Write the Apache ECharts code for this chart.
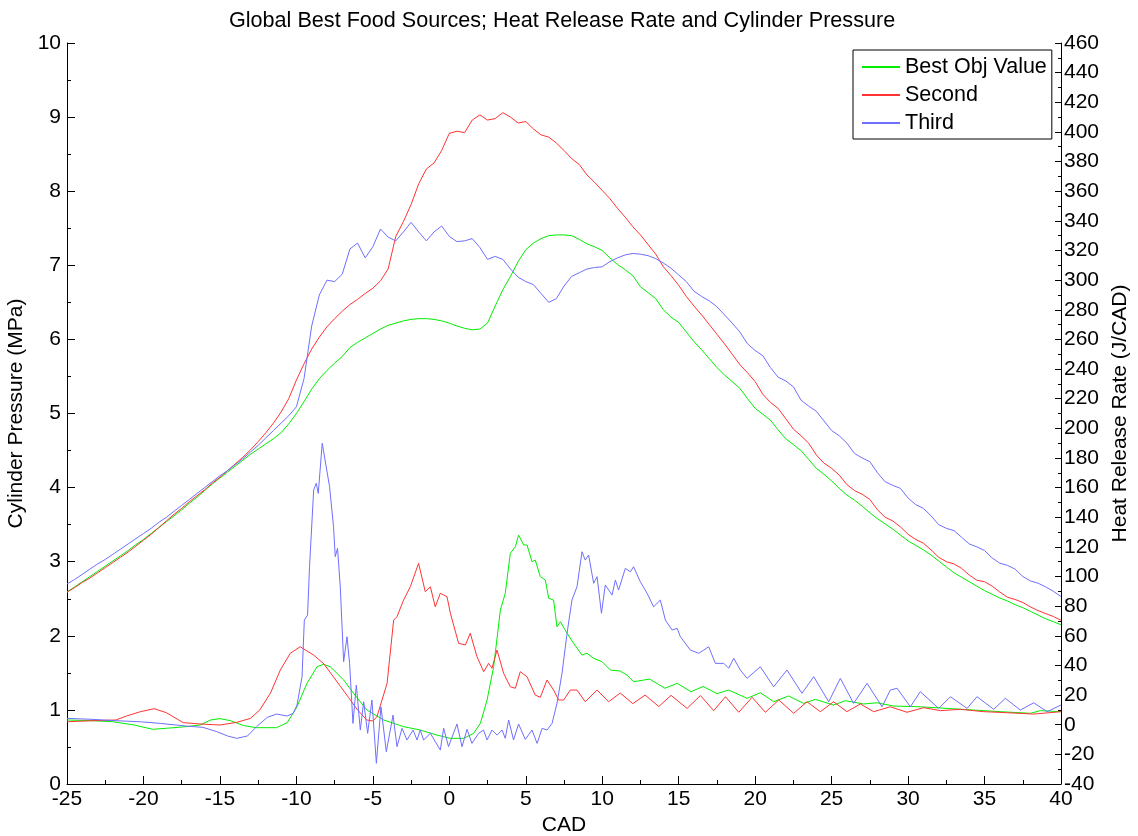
<!DOCTYPE html>
<html><head><meta charset="utf-8">
<script src="https://cdn.jsdelivr.net/npm/echarts/dist/echarts.min.js"></script>
<style>html,body{margin:0;padding:0;background:#fff}#c{width:1138px;height:836px}</style>
</head><body><div id="c"></div>
<script>
const titleText = 'Global Best Food Sources; Heat Release Rate and Cylinder Pressure';
const seriesNames = ['Best Obj Value', 'Second', 'Third'];

// Cylinder pressure (MPa), shared CAD grid
const cad = [-25,-24.5,-24,-23.5,-23,-22.5,-22,-21.5,-21,-20.5,
  -20,-19.5,-19,-18.5,-18,-17.5,-17,-16.5,-16,-15.5,
  -15,-14.5,-14,-13.5,-13,-12.5,-12,-11.5,-11,-10.5,
  -10,-9.5,-9,-8.5,-8,-7.5,-7,-6.5,-6,-5.5,
  -5,-4.5,-4,-3.5,-3,-2.5,-2,-1.5,-1,-0.5,
  0,0.5,1,1.5,2,2.5,3,3.5,4,4.5,
  5,5.5,6,6.5,7,7.5,8,8.5,9,9.5,
  10,10.5,11,11.5,12,12.5,13,13.5,14,14.5,
  15,15.5,16,16.5,17,17.5,18,18.5,19,19.5,
  20,20.5,21,21.5,22,22.5,23,23.5,24,24.5,
  25,25.5,26,26.5,27,27.5,28,28.5,29,29.5,
  30,30.5,31,31.5,32,32.5,33,33.5,34,34.5,
  35,35.5,36,36.5,37,37.5,38,38.5,39,39.5,
  40];
const pressureBest = [2.59,2.66,2.73,2.80,2.87,2.94,3.01,3.08,3.15,3.23,
  3.30,3.38,3.46,3.54,3.62,3.70,3.79,3.87,3.96,4.05,
  4.13,4.21,4.29,4.37,4.45,4.52,4.59,4.66,4.74,4.86,
  5.00,5.16,5.33,5.47,5.58,5.68,5.77,5.89,5.96,6.02,
  6.08,6.14,6.19,6.22,6.25,6.27,6.28,6.28,6.27,6.25,
  6.22,6.18,6.15,6.13,6.14,6.22,6.45,6.67,6.85,7.05,
  7.21,7.30,7.36,7.40,7.41,7.41,7.40,7.35,7.29,7.25,
  7.20,7.10,7.01,6.94,6.86,6.71,6.63,6.55,6.40,6.30,
  6.23,6.10,5.97,5.86,5.74,5.62,5.52,5.43,5.34,5.20,
  5.07,4.99,4.91,4.78,4.66,4.58,4.50,4.38,4.26,4.18,
  4.09,3.99,3.90,3.83,3.75,3.66,3.58,3.51,3.44,3.36,
  3.28,3.22,3.16,3.09,3.01,2.93,2.85,2.79,2.73,2.67,
  2.61,2.56,2.51,2.47,2.42,2.38,2.33,2.28,2.23,2.19,
  2.15];
const pressureSecond = [2.59,2.65,2.72,2.78,2.85,2.92,2.99,3.06,3.13,3.21,
  3.29,3.37,3.46,3.55,3.64,3.72,3.81,3.89,3.97,4.06,
  4.14,4.23,4.32,4.41,4.51,4.62,4.74,4.87,5.02,5.20,
  5.45,5.67,5.87,6.03,6.17,6.28,6.38,6.47,6.54,6.62,
  6.69,6.79,6.95,7.39,7.59,7.82,8.10,8.30,8.38,8.55,
  8.78,8.81,8.79,8.96,9.03,8.96,8.98,9.06,9.00,8.92,
  8.94,8.84,8.76,8.73,8.65,8.55,8.44,8.36,8.22,8.12,
  8.01,7.90,7.77,7.65,7.52,7.41,7.28,7.15,6.98,6.86,
  6.73,6.58,6.45,6.33,6.20,6.07,5.94,5.80,5.66,5.55,
  5.43,5.26,5.15,5.07,4.93,4.79,4.70,4.60,4.44,4.33,
  4.26,4.17,4.04,3.96,3.91,3.84,3.70,3.60,3.55,3.47,
  3.37,3.30,3.25,3.16,3.06,3.00,2.97,2.91,2.82,2.75,
  2.73,2.67,2.59,2.52,2.49,2.45,2.39,2.34,2.30,2.26,
  2.21];
const pressureThird = [2.70,2.76,2.83,2.90,2.97,3.03,3.10,3.17,3.24,3.31,
  3.38,3.45,3.53,3.60,3.68,3.76,3.84,3.92,4.00,4.08,
  4.16,4.23,4.31,4.39,4.48,4.57,4.67,4.77,4.87,4.97,
  5.09,5.47,6.18,6.60,6.80,6.78,6.88,7.22,7.30,7.10,
  7.25,7.49,7.38,7.33,7.45,7.58,7.45,7.33,7.45,7.53,
  7.39,7.32,7.33,7.36,7.24,7.08,7.12,7.08,6.95,6.84,
  6.78,6.74,6.62,6.50,6.55,6.72,6.85,6.90,6.95,6.97,
  6.98,7.05,7.10,7.14,7.16,7.15,7.13,7.09,7.03,6.96,
  6.87,6.78,6.65,6.58,6.52,6.44,6.33,6.22,6.10,5.94,
  5.85,5.78,5.62,5.49,5.44,5.36,5.18,5.10,5.03,4.90,
  4.77,4.70,4.60,4.46,4.40,4.35,4.20,4.08,4.03,3.99,
  3.86,3.77,3.72,3.62,3.50,3.45,3.42,3.33,3.24,3.20,
  3.15,3.05,2.98,2.95,2.90,2.80,2.74,2.71,2.66,2.60,
  2.53];

// Heat release rate (J/CAD), each with its own CAD points
const hrrBestCad = [-25,-23.3,-22,-20.6,-19.4,-18.5,-17.2,-16.3,-15.6,-15,-14.3,-13.45,-12.6,-11.3,-10.6,-9.96,-9.31,-8.65,-8.22,-7.78,-6.91,-6.26,-5.82,-5.38,-4.29,-2.99,-1.9,-0.8,0.07,0.94,1.59,2.03,2.47,2.9,3.34,3.66,3.99,4.32,4.53,4.86,5.08,5.41,5.62,5.95,6.28,6.5,6.82,7.04,7.26,7.7,8.13,8.68,9,9.44,9.99,10.53,11.18,11.62,12.05,13.1,14.1,14.9,15.8,16.6,17.51,18.27,19.47,20.34,21.21,22.19,23.17,23.94,25.13,25.9,27.09,27.97,29.06,30.8,32.55,34.29,36.04,38,38.65,40];
const hrrBestVal = [3.2,2.7,2.0,-0.2,-3.1,-2.4,-1.3,-0.2,3.2,4.1,2.7,-0.6,-2.0,-2.0,1.4,12.1,27.9,39.1,40.8,39.1,30.2,21.2,15.5,9.9,3.2,-1.3,-3.6,-7,-9.2,-9.2,-5.8,0.9,16.7,39.1,77.4,88.7,115.7,120.1,128,121.3,121.3,110,111.1,99.9,97.6,85.3,84.1,66.1,69.5,61.7,54.9,47,48.2,44.8,42.5,36.9,36.2,33.5,29,30.8,24.6,27.9,22.3,25.8,21,23.4,17.8,21.6,15.5,19.4,14.4,17.1,13.3,16.2,14,14.8,12.6,12.1,11,9.9,8.8,7.7,9.5,8.8];
const hrrSecondCad = [-25,-23.3,-21.8,-21.1,-20.2,-19.3,-18.5,-17.4,-16.3,-15,-13.9,-13,-12.4,-11.7,-11.05,-10.4,-9.75,-8.87,-8.2,-7.1,-6.6,-6,-5.4,-5,-4.73,-4.07,-3.64,-3.42,-2.99,-2.55,-2.01,-1.57,-1.24,-0.92,-0.59,-0.15,0.07,0.61,1.05,1.37,1.81,2.25,2.57,2.79,3.12,3.55,3.99,4.32,4.64,5.08,5.62,5.95,6.39,6.82,7.15,7.48,7.91,8.35,8.89,9.66,10.42,11.18,12,12.8,13.7,14.5,15.55,16.42,17.29,18.06,18.93,19.8,20.67,21.54,22.52,23.39,24.26,25.13,26,26.88,27.75,28.84,29.93,31.02,32.11,33.42,34.95,36.48,38.22,40];
const hrrSecondVal = [2.0,2.7,3.2,5.9,8.8,10.8,8.1,1.4,0.5,-0.2,1.6,4.3,9.9,21.2,36.9,48.2,52.6,47,41,25.6,18.5,10,3.2,2.5,5.4,27.9,70.6,72.9,84.1,93.1,108.9,89.7,93.1,79.6,88.7,86.4,75.2,54.9,53.8,61.7,45.9,35.8,41.4,38.1,50.4,34.7,25.6,24.6,35.8,32.4,20.0,18.5,30.2,23.4,16.7,16.7,23.4,23.4,15.5,23.4,15.5,21.4,14.2,20,12.3,19.8,11,19.7,9.5,18.9,8.4,18.5,8.4,16.7,7.7,15.5,8.8,15.5,8.8,14,8.8,12.1,8.4,11.5,9.5,10.4,8.8,8.1,7.2,8.8];
const hrrThirdCad = [-25,-23.3,-21.8,-20.2,-18.9,-17.2,-16.1,-15.2,-14.5,-13.9,
  -13.2,-12.6,-11.9,-11.3,-10.6,-10.2,-9.96,-9.63,-9.48,-9.27,
  -9.14,-8.87,-8.7,-8.57,-8.31,-8.18,-7.83,-7.57,-7.46,-7.31,
  -7.13,-6.91,-6.69,-6.52,-6.3,-6.08,-5.82,-5.6,-5.34,-5.06,
  -4.77,-4.47,-4.12,-3.68,-3.42,-3.09,-2.77,-2.37,-2.11,-1.9,
  -1.68,-1.24,-0.59,-0.37,-0.05,0.5,0.83,1.16,1.48,1.92,
  2.24,2.47,2.79,3.12,3.45,3.66,3.88,4.2,4.53,4.97,
  5.41,5.74,6.07,6.39,6.72,7.04,7.37,7.7,8.02,8.35,
  8.68,8.89,9.11,9.44,9.66,9.95,10.2,10.64,10.86,11.07,
  11.51,11.84,12.05,12.49,12.93,13.36,13.8,14.13,14.57,14.9,
  15.11,15.76,16.31,16.64,16.96,17.4,17.95,18.27,18.6,19.03,
  19.47,20.34,21.21,22.08,23.06,23.83,24.81,25.57,26.44,27.32,
  28.3,28.84,29.28,30.15,30.8,32,32.77,33.86,34.51,35.6,
  36.36,37.34,38.22,39.09,40];
const hrrThirdVal = [4.3,3.6,2.7,2.0,0.9,-0.9,-1.8,-4.7,-7.6,-9.2,
  -7.6,-1.3,5.0,7.2,5.9,7.7,13.3,32.4,70.6,74,
  106.6,158.4,162.9,156.1,189.9,189.9,160.6,133.6,113.4,119,
  93.1,42.5,59.4,41.4,0.9,26.8,-3.6,15.5,-5.8,16.7,
  -26,12.1,-18.2,6.5,-14.8,-2.4,-10.3,-3.6,-10.3,-3.6,
  -10.3,-5.8,-17.1,-2.4,-14.8,0.5,-14.8,-3.1,-12.6,-5.8,
  -3.6,-10.3,-3.6,-7,-3.6,-9.2,3.2,-10.3,0.5,-9.9,
  -3.6,-12.6,-2.4,-3.6,0.9,14.4,34.7,61.7,84.1,93.1,
  116.7,111.1,114.5,95.4,99.9,75.2,94.3,87.5,97.6,90.9,
  105.5,103.2,106.6,96.5,88.7,79.6,84.1,70.6,63.9,65,
  59.4,50.4,48.2,50.4,52.6,41.4,41.4,38.1,44.8,36.9,
  31.3,39.1,25.6,36.9,21.2,32.4,15.5,31.3,14.4,27.9,
  12.1,23.4,24.6,12.1,22.3,11,18.9,11,18.9,10.4,
  17.8,9.9,14.8,8.8,13.3];

const colors = ['#00ee00', '#ff3333', '#6f6fff'];
const font = '"Liberation Sans", Arial, Helvetica, sans-serif';
const zip = (xs, ys) => xs.map((x, i) => [x, ys[i]]);

function lineSeries(name, data, axis, color) {
  return {name, type: 'line', yAxisIndex: axis, data, showSymbol: false, symbol: 'none',
    lineStyle: {width: 1, color}, itemStyle: {color}, emphasis: {disabled: true}, z: 2};
}

const axisCommon = {
  axisLine: {show: true, onZero: false, lineStyle: {color: '#000', width: 1}},
  axisTick: {show: true, inside: true, length: 8, lineStyle: {color: '#000', width: 1}},
  minorTick: {show: true, splitNumber: 2, length: 4, lineStyle: {color: '#000', width: 1}},
  splitLine: {show: false},
  minorSplitLine: {show: false},
  axisLabel: {fontSize: 21, color: '#000', fontFamily: font},
  nameTextStyle: {fontSize: 21, color: '#000', fontFamily: font}
};

const chart = echarts.init(document.getElementById('c'), null, {renderer: 'canvas'});
chart.setOption({
  animation: false,
  backgroundColor: '#fff',
  textStyle: {fontFamily: font},
  title: {text: titleText, left: 224, top: 5,
    textStyle: {fontSize: 21.6, fontWeight: 'normal', color: '#000', fontFamily: font}},
  legend: {
    orient: 'vertical', left: 853, top: 50,
    data: seriesNames, icon: 'rect', itemWidth: 38, itemHeight: 2, itemGap: 6,
    backgroundColor: '#fff', borderColor: '#000', borderWidth: 1, borderRadius: 0,
    padding: [6, 5, 5, 9],
    textStyle: {fontSize: 21.5, color: '#000', fontFamily: font}
  },
  grid: {left: 67, right: 77, top: 43, bottom: 52, containLabel: false, outerBoundsMode: 'none'},
  xAxis: Object.assign({}, axisCommon, {
    type: 'value', min: -25, max: 40, interval: 5,
    name: 'CAD', nameLocation: 'middle', nameGap: 29,
    axisLabel: Object.assign({}, axisCommon.axisLabel, {margin: 5})
  }),
  yAxis: [
    Object.assign({}, axisCommon, {
      type: 'value', position: 'left', min: 0, max: 10, interval: 1,
      name: 'Cylinder Pressure (MPa)', nameLocation: 'middle', nameRotate: 90, nameGap: 35,
      axisLabel: Object.assign({}, axisCommon.axisLabel, {margin: 6})
    }),
    Object.assign({}, axisCommon, {
      type: 'value', position: 'right', min: -40, max: 460, interval: 20,
      name: 'Heat Release Rate (J/CAD)', nameLocation: 'middle', nameRotate: 90, nameGap: 43,
      axisTick: Object.assign({}, axisCommon.axisTick, {length: 6}),
      minorTick: Object.assign({}, axisCommon.minorTick, {length: 3}),
      axisLabel: Object.assign({}, axisCommon.axisLabel, {margin: 3})
    })
  ],
  series: [
    lineSeries(seriesNames[0], zip(cad, pressureBest), 0, colors[0]),
    lineSeries(seriesNames[1], zip(cad, pressureSecond), 0, colors[1]),
    lineSeries(seriesNames[2], zip(cad, pressureThird), 0, colors[2]),
    lineSeries(seriesNames[0], zip(hrrBestCad, hrrBestVal), 1, colors[0]),
    lineSeries(seriesNames[1], zip(hrrSecondCad, hrrSecondVal), 1, colors[1]),
    lineSeries(seriesNames[2], zip(hrrThirdCad, hrrThirdVal), 1, colors[2])
  ]
});
</script>
</body></html>
